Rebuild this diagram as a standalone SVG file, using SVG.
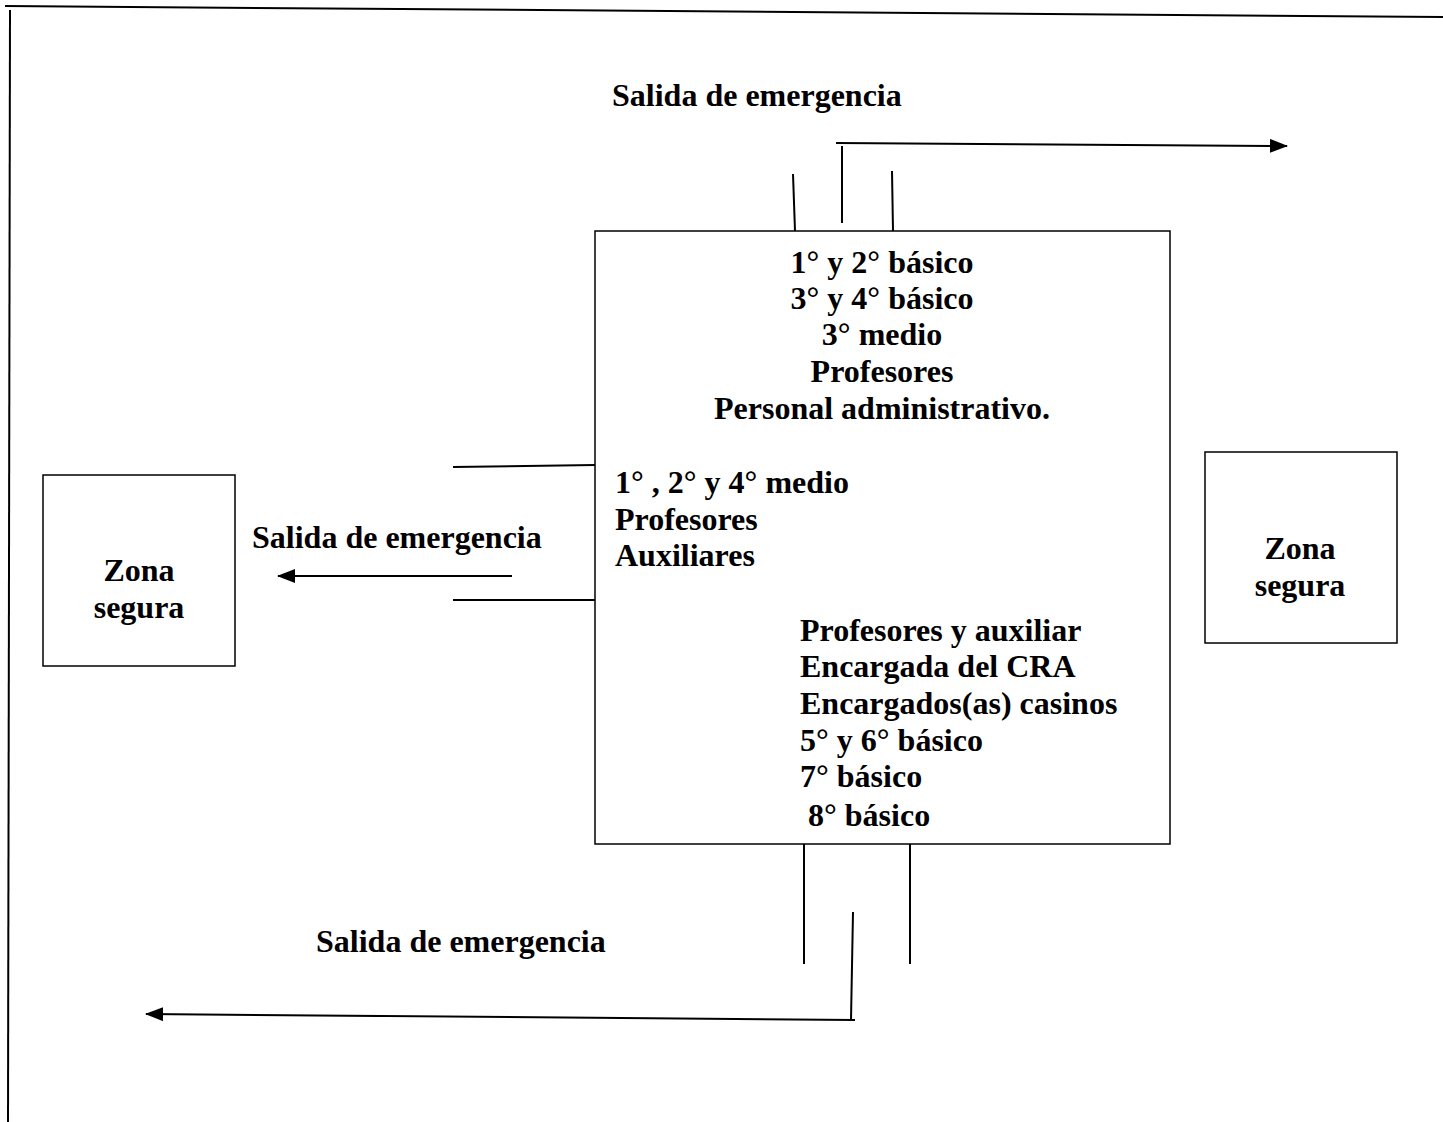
<svg xmlns="http://www.w3.org/2000/svg" width="1443" height="1122" viewBox="0 0 1443 1122">
<defs>
<style>
.t{font-family:"Liberation Serif","Times New Roman",serif;font-weight:bold;font-size:32px;fill:#000}
.c{text-anchor:middle}
.ln{stroke:#000;stroke-width:2;fill:none}
.bx{stroke:#000;stroke-width:1.5;fill:#fff}
</style>
<marker id="ah" markerUnits="userSpaceOnUse" markerWidth="18" markerHeight="14" refX="17" refY="7" orient="auto">
<path d="M0,0 L18,7 L0,14 Z" fill="#000"/>
</marker>
</defs>
<rect width="1443" height="1122" fill="#fff"/>
<g id="frame">
<line class="ln" x1="5" y1="6" x2="1443" y2="17" stroke-width="3"/>
<line class="ln" x1="10" y1="10" x2="8" y2="1122" stroke-width="3"/>
</g>
<g id="connectors">
<line class="ln" x1="793" y1="174" x2="795" y2="231"/>
<line class="ln" x1="842" y1="146" x2="842" y2="223"/>
<line class="ln" x1="892" y1="171" x2="893" y2="231"/>
<line class="ln" x1="836" y1="143" x2="1287" y2="146" stroke-width="2.5" marker-end="url(#ah)"/>
<line class="ln" x1="453" y1="467" x2="595" y2="465"/>
<line class="ln" x1="453" y1="600" x2="595" y2="600"/>
<line class="ln" x1="512" y1="576" x2="278" y2="576" stroke-width="2.5" marker-end="url(#ah)"/>
<line class="ln" x1="804" y1="844" x2="804" y2="964"/>
<line class="ln" x1="910" y1="844" x2="910" y2="964"/>
<line class="ln" x1="853" y1="912" x2="851" y2="1020"/>
<line class="ln" x1="855" y1="1020" x2="146" y2="1014" stroke-width="2.5" marker-end="url(#ah)"/>
</g>
<g id="building">
<rect class="bx" x="595" y="231" width="575" height="613"/>
<text class="t c" x="882" y="273">1° y 2° básico</text>
<text class="t c" x="882" y="309">3° y 4° básico</text>
<text class="t c" x="882" y="345">3° medio</text>
<text class="t c" x="882" y="382">Profesores</text>
<text class="t c" x="882" y="419">Personal administrativo.</text>
<text class="t" x="615" y="493">1° , 2° y 4° medio</text>
<text class="t" x="615" y="530">Profesores</text>
<text class="t" x="615" y="566">Auxiliares</text>
<text class="t" x="800" y="641">Profesores y auxiliar</text>
<text class="t" x="800" y="677">Encargada del CRA</text>
<text class="t" x="800" y="714">Encargados(as) casinos</text>
<text class="t" x="800" y="751">5° y 6° básico</text>
<text class="t" x="800" y="787">7° básico</text>
<text class="t" x="808" y="826">8° básico</text>
</g>
<g id="zona-izq">
<rect class="bx" x="43" y="475" width="192" height="191"/>
<text class="t c" x="139" y="581">Zona</text>
<text class="t c" x="139" y="618">segura</text>
</g>
<g id="zona-der">
<rect class="bx" x="1205" y="452" width="192" height="191"/>
<text class="t c" x="1300" y="559">Zona</text>
<text class="t c" x="1300" y="596">segura</text>
</g>
<g id="labels">
<text class="t" x="612" y="106">Salida de emergencia</text>
<text class="t" x="252" y="548">Salida de emergencia</text>
<text class="t" x="316" y="952">Salida de emergencia</text>
</g>
</svg>
